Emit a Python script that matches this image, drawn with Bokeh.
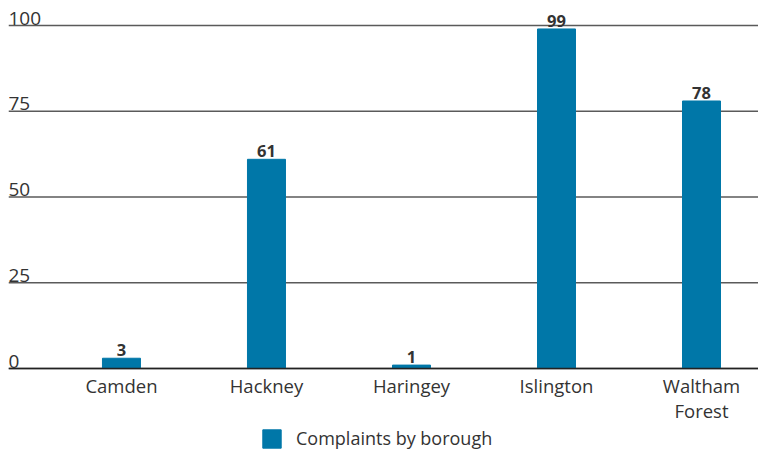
from bokeh.plotting import figure
from bokeh.models import ColumnDataSource, Range1d, Span, Legend, LegendItem
from bokeh.core.properties import value
from bokeh.embed import file_html
from bokeh.resources import INLINE

boroughs = ["Camden", "Hackney", "Haringey", "Islington", "Waltham\nForest"]
complaints = [3, 61, 1, 99, 78]
y_ticks = [0, 25, 50, 75, 100]
series_name = "Complaints by borough"

FONT = "Open Sans"
BAR = "#0077A8"
TXT = "#333333"

X0, X1 = -0.779, 4.393
xs = list(range(len(boroughs)))
src = ColumnDataSource(dict(x=xs, top=complaints, lab=[str(v) for v in complaints]))

p = figure(width=758, height=450, output_backend="svg", toolbar_location=None,
           x_range=Range1d(X0, X1), y_range=Range1d(-23.9, 107.3),
           min_border_left=8, min_border_right=0, min_border_top=0, min_border_bottom=0)
p.outline_line_color = None
p.background_fill_color = "white"
p.border_fill_color = "white"
p.axis.visible = False
p.xgrid.visible = False
p.ygrid.visible = False

# horizontal gridlines
p.segment(x0=[X0] * len(y_ticks), x1=[X1] * len(y_ticks), y0=y_ticks, y1=y_ticks,
          line_color="#5a5a5a", line_width=1.5)
p.add_layout(Span(location=0, dimension="width", line_color="#222222", line_width=1.5))

r = p.vbar(x="x", top="top", width=0.262, source=src, color=BAR)

# value labels
p.text(x="x", y="top", text="lab", source=src, text_align="center", text_baseline="bottom",
       y_offset=-2, text_font=value(FONT), text_font_size="16.5px", text_font_style="bold",
       text_color=TXT)

# y tick labels drawn above gridlines at left
ysrc = ColumnDataSource(dict(x=[X0] * len(y_ticks), y=y_ticks, t=[str(v) for v in y_ticks]))
p.text(x="x", y="y", text="t", source=ysrc, text_align="left", text_baseline="bottom",
       y_offset=-1, text_font=value(FONT), text_font_size="19px", text_color=TXT)

# category labels
csrc = ColumnDataSource(dict(x=xs, y=[0] * len(xs), t=boroughs))
p.text(x="x", y="y", text="t", source=csrc, text_align="center", text_baseline="top",
       y_offset=4, text_font=value(FONT), text_font_size="18.5px", text_color=TXT,
       text_line_height=1.0)

legend = Legend(items=[LegendItem(label=series_name, renderers=[r])], location=(252, 0),
                orientation="horizontal", label_text_font=FONT, label_text_font_size="18px",
                label_text_color=TXT, glyph_width=23, glyph_height=23, label_standoff=13,
                padding=2, margin=0, border_line_color=None, background_fill_alpha=0)
p.add_layout(legend)

open("out.html", "w").write(file_html(p, INLINE))
